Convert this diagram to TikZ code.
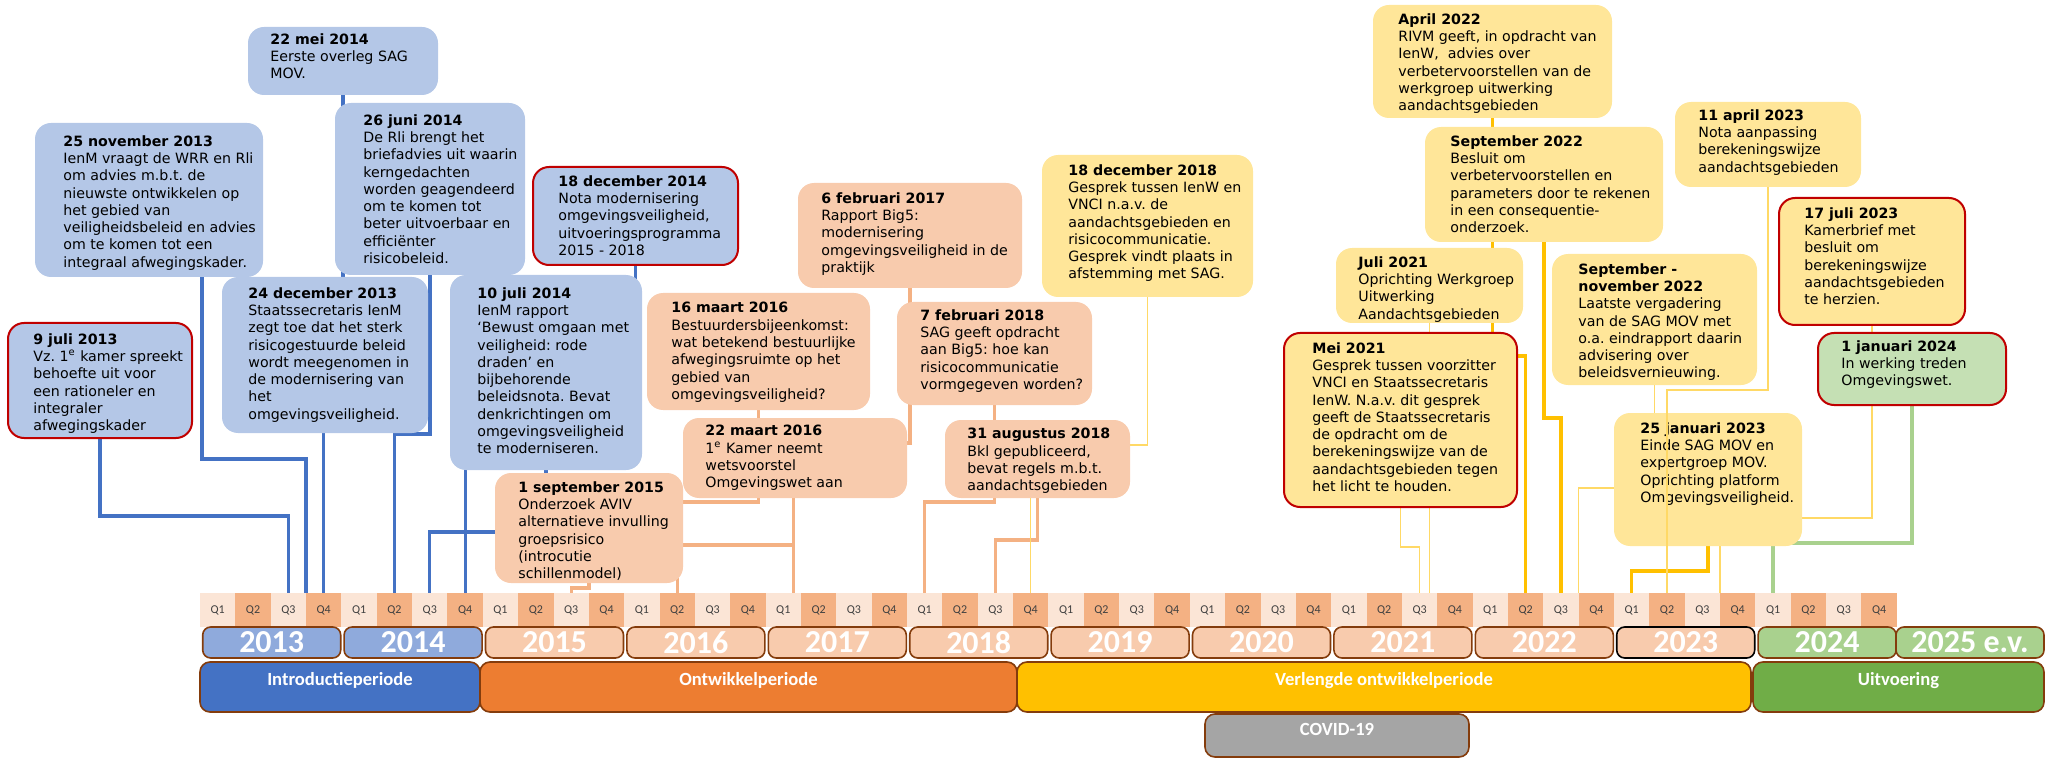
\documentclass[tikz,border=0pt]{standalone}
\usepackage{fontspec}
\setmainfont{DejaVu Sans}
\newfontfamily\calib{Carlito}
\usetikzlibrary{fit}
\pgfdeclarelayer{back}
\pgfsetlayers{back,main}
\frenchspacing
\definecolor{boxblue}{HTML}{B4C7E7}
\definecolor{boxorange}{HTML}{F8CBAD}
\definecolor{boxyellow}{HTML}{FFE699}
\definecolor{boxgreen}{HTML}{C5E0B4}
\definecolor{boxred}{HTML}{C00000}
\definecolor{lnblue}{HTML}{4472C4}
\definecolor{lnorange}{HTML}{F4B183}
\definecolor{lngold}{HTML}{FFC000}
\definecolor{lnthin}{HTML}{FFD966}
\definecolor{lngreen}{HTML}{A9D18E}
\definecolor{qlight}{HTML}{FBE5D6}
\definecolor{qdark}{HTML}{F4B183}
\definecolor{qtext}{HTML}{404040}
\definecolor{yrblue}{HTML}{8FAADC}
\definecolor{yrorange}{HTML}{F8CBAD}
\definecolor{yrgreen}{HTML}{A9D18E}
\definecolor{rim}{HTML}{843C0C}
\definecolor{perblue}{HTML}{4472C4}
\definecolor{perorange}{HTML}{ED7D31}
\definecolor{pergold}{HTML}{FFC000}
\definecolor{pergreen}{HTML}{70AD47}
\definecolor{covid}{HTML}{A5A5A5}

\begin{document}
\begin{tikzpicture}[x=0.5pt,y=-0.5pt,
  box/.style={rounded corners=8pt,inner sep=0pt,outer sep=0pt},
  blueev/.style={box,fill=boxblue},
  orangeev/.style={box,fill=boxorange},
  yellowev/.style={box,fill=boxyellow},
  greenev/.style={box,fill=boxgreen},
  redrim/.style={draw=boxred,line width=1pt},
  evtext/.style={anchor=north west,inner sep=0pt,align=left,font=\fontsize{7.1}{8.65}\selectfont},
  qcell/.style={anchor=north west,minimum width=17.675pt,minimum height=17pt,inner sep=0pt,outer sep=0pt,text=qtext,font=\calib\fontsize{6}{7}\selectfont},
  yearbox/.style={line width=0.8pt,rounded corners=4pt,minimum width=69pt,minimum height=15.5pt,inner sep=0pt,text=white,font=\calib\bfseries\fontsize{16}{16}\selectfont},
  period/.style={draw=rim,line width=0.8pt,rounded corners=5pt,inner sep=0pt,outer sep=0pt,text=white,font=\calib\bfseries\fontsize{9.3}{10}\selectfont},
  blueln/.style={lnblue,line width=1.6pt},
  orangeln/.style={lnorange,line width=1.6pt},
  goldln/.style={lngold,line width=1.6pt},
  thinln/.style={lnthin,line width=0.6pt},
  greenln/.style={lngreen,line width=1.6pt}]
\useasboundingbox (0,0) rectangle (2051,759);

\foreach \i in {0,...,47}{
  \pgfmathtruncatemacro\qn{mod(\i,4)+1}
  \pgfmathsetmacro\qx{200+35.35*\i}
  \ifodd\qn \def\qc{qlight}\else\def\qc{qdark}\fi
  \node[qcell,fill=\qc] (q\i) at (\qx,593) {Q\qn};
}

\foreach \yr/\yc/\yd [count=\k from 0] in {2013/yrblue/rim,2014/yrblue/rim,2015/yrorange/rim,2016/yrorange/rim,2017/yrorange/rim,2018/yrorange/rim,2019/yrorange/rim,2020/yrorange/rim,2021/yrorange/rim,2022/yrorange/rim,2023/yrorange/black,2024/yrgreen/rim}
  \node[yearbox,fill=\yc,draw=\yd] (y\yr) at ({271.7+141.4*\k},642.5) {\yr};
\node[yearbox,fill=yrgreen,draw=rim,minimum width=74pt] (y2025) at (1970,642.5) {2025 e.v.};

\node[period,fill=perblue,fit={(200,662)(480,712)}] (pintro) {Introductieperiode};
\node[period,fill=perorange,fit={(480,662)(1017,712)}] (pontw) {Ontwikkelperiode};
\node[period,fill=pergold,fit={(1017,662)(1751,712)}] (pverl) {Verlengde ontwikkelperiode};
\node[period,fill=pergreen,fit={(1753,662)(2044,712)}] (puitv) {Uitvoering};
\node[period,fill=covid,fit={(1205,714)(1469,757)}] (pcovid) {COVID-19};

\node[blueev,fit={(248,27)(438,95)}] (b22mei) {};
\node[evtext] (t22mei) at (270,33) {\textbf{22 mei 2014}\\Eerste overleg SAG\\MOV.};
\node[blueev,fit={(35,123)(263,277)}] (b25nov) {};
\node[evtext] (t25nov) at (63,135) {\textbf{25 november 2013}\\IenM vraagt de WRR en Rli\\om advies m.b.t. de\\nieuwste ontwikkelen op\\het gebied van\\veiligheidsbeleid en advies\\om te komen tot een\\integraal afwegingskader.};
\node[blueev,fit={(335,103)(525,275)}] (b26jun) {};
\node[evtext] (t26jun) at (363,114) {\textbf{26 juni 2014}\\De Rli brengt het\\briefadvies uit waarin\\kerngedachten\\worden geagendeerd\\om te komen tot\\beter uitvoerbaar en\\efficiënter\\risicobeleid.};
\node[blueev,fit={(222,277)(428,433)}] (b24dec) {};
\node[evtext] (t24dec) at (248,287) {\textbf{24 december 2013}\\Staatssecretaris IenM\\zegt toe dat het sterk\\risicogestuurde beleid\\wordt meegenomen in\\de modernisering van\\het\\omgevingsveiligheid.};
\node[blueev,redrim,fit={(8,323)(192,438)}] (b9jul) {};
\node[evtext] (t9jul) at (33,333) {\textbf{9 juli 2013}\\Vz. 1\textsuperscript{e} kamer spreekt\\behoefte uit voor\\een rationeler en\\integraler\\afwegingskader};
\node[blueev,fit={(450,275)(642,470)}] (b10jul) {};
\node[evtext] (t10jul) at (477,287) {\textbf{10 juli 2014}\\IenM rapport\\‘Bewust omgaan met\\veiligheid: rode\\draden’ en\\bijbehorende\\beleidsnota. Bevat\\denkrichtingen om\\omgevingsveiligheid\\te moderniseren.};
\node[blueev,redrim,fit={(533,167)(738,265)}] (b18dec14) {};
\node[evtext] (t18dec14) at (558,175) {\textbf{18 december 2014}\\Nota modernisering\\omgevingsveiligheid,\\uitvoeringsprogramma\\2015 - 2018};

\node[orangeev,fit={(495,473)(683,583)}] (b1sep15) {};
\node[evtext] (t1sep15) at (518,481) {\textbf{1 september 2015}\\Onderzoek AVIV\\alternatieve invulling\\groepsrisico\\(introcutie\\schillenmodel)};
\node[orangeev,fit={(647,293)(870,410)}] (b16mrt16) {};
\node[evtext] (t16mrt16) at (671,302) {\textbf{16 maart 2016}\\Bestuurdersbijeenkomst:\\wat betekend bestuurlijke\\afwegingsruimte op het\\gebied van\\omgevingsveiligheid?};
\node[orangeev,fit={(683,418)(907,498)}] (b22mrt16) {};
\node[evtext] (t22mrt16) at (705,425) {\textbf{22 maart 2016}\\1\textsuperscript{e} Kamer neemt\\wetsvoorstel\\Omgevingswet aan};
\node[orangeev,fit={(798,183)(1022,288)}] (b6feb17) {};
\node[evtext] (t6feb17) at (821,192) {\textbf{6 februari 2017}\\Rapport Big5:\\modernisering\\omgevingsveiligheid in de\\praktijk};
\node[orangeev,fit={(897,302)(1092,405)}] (b7feb18) {};
\node[evtext] (t7feb18) at (920,309) {\textbf{7 februari 2018}\\SAG geeft opdracht\\aan Big5: hoe kan\\risicocommunicatie\\vormgegeven worden?};
\node[orangeev,fit={(945,420)(1130,498)}] (b31aug18) {};
\node[evtext] (t31aug18) at (967,428) {\textbf{31 augustus 2018}\\Bkl gepubliceerd,\\bevat regels m.b.t.\\aandachtsgebieden};

\node[yellowev,fit={(1042,155)(1253,297)}] (b18dec18) {};
\node[evtext] (t18dec18) at (1068,164) {\textbf{18 december 2018}\\Gesprek tussen IenW en\\VNCI n.a.v. de\\aandachtsgebieden en\\risicocommunicatie.\\Gesprek vindt plaats in\\afstemming met SAG.};
\node[yellowev,fit={(1373,5)(1612,118)}] (bapr22) {};
\node[evtext] (tapr22) at (1398,13) {\textbf{April 2022}\\RIVM geeft, in opdracht van\\IenW,~ advies over\\verbetervoorstellen van de\\werkgroep uitwerking\\aandachtsgebieden};
\node[yellowev,fit={(1425,127)(1663,242)}] (bsep22) {};
\node[evtext] (tsep22) at (1450,135) {\textbf{September 2022}\\Besluit om\\verbetervoorstellen en\\parameters door te rekenen\\in een consequentie-\\onderzoek.};
\node[yellowev,fit={(1336,248)(1523,323)}] (bjul21) {};
\node[evtext] (tjul21) at (1358,256) {\textbf{Juli 2021}\\Oprichting Werkgroep\\Uitwerking\\Aandachtsgebieden};
\node[yellowev,redrim,fit={(1284,333)(1517,507)}] (bmei21) {};
\node[evtext] (tmei21) at (1312,342) {\textbf{Mei 2021}\\Gesprek tussen voorzitter\\VNCI en Staatssecretaris\\IenW. N.a.v. dit gesprek\\geeft de Staatssecretaris\\de opdracht om de\\berekeningswijze van de\\aandachtsgebieden tegen\\het licht te houden.};
\node[yellowev,fit={(1552,254)(1757,385)}] (bsepnov22) {};
\node[evtext] (tsepnov22) at (1578,263) {\textbf{September -}\\\textbf{november 2022}\\Laatste vergadering\\van de SAG MOV met\\o.a. eindrapport daarin\\advisering over\\beleidsvernieuwing.};
\node[yellowev,fit={(1675,102)(1861,187)}] (bapr23) {};
\node[evtext] (tapr23) at (1698,109) {\textbf{11 april 2023}\\Nota aanpassing\\berekeningswijze\\aandachtsgebieden};
\node[yellowev,redrim,fit={(1779,198)(1965,325)}] (bjul23) {};
\node[evtext] (tjul23) at (1804,207) {\textbf{17 juli 2023}\\Kamerbrief met\\besluit om\\berekeningswijze\\aandachtsgebieden\\te herzien.};
\node[greenev,redrim,fit={(1818,333)(2006,405)}] (bjan24) {};
\node[evtext] (tjan24) at (1841,340) {\textbf{1 januari 2024}\\In werking treden\\Omgevingswet.};
\node[yellowev,fit={(1614,413)(1802,546)}] (b25jan23) {};
\node[evtext] (t25jan23) at (1640,422) {\textbf{25 januari 2023}\\Einde SAG MOV en\\expertgroep MOV.\\Oprichting platform\\Omgevingsveiligheid.};

\coordinate (c17) at ([xshift=5pt]q16.north);

\begin{pgfonlayer}{back}
\draw[blueln] (b9jul.south) -- ++(0,78) -| (q2.north);
\draw[blueln] (b25nov.south -| 202,0) -- (202,459) -| (q3.north west);
\draw[blueln] (b24dec.south -| q3.north) -- (q3.north);
\draw[blueln] (b22mei.south) -- (b24dec.north -| b22mei.south);
\draw[blueln] (b26jun.south) -- ++(0,159) -| (q5.north);
\draw[blueln] (b10jul.south -| q7.north) -- (q7.north);
\draw[blueln] (b18dec14.south) -- ++(0,15) -| (b10jul.south |- 0,532) -| (q6.north);

\draw[orangeln] (b1sep15.south) -- ++(0,5) -| (q10.north);
\draw[orangeln] (b16mrt16.south) -- ++(0,92) -| (q13.north);
\draw[orangeln] (b6feb17.south) -- ++(0,155) -| (c17);
\draw[orangeln] (b22mrt16.south -| c17) -- ++(0,47) -| (q13.north);
\draw[orangeln] (b7feb18.south) -- ++(0,97) -| (q20.north);
\draw[orangeln] (b31aug18.south) -- ++(0,42) -| (q22.north);

\draw[thinln] (b18dec18.south) -- ++(0,148) -| (q23.north);
\draw[thinln] (bjul21.south) -- (bjul21.south |- q34.north);
\draw[thinln] (bmei21.south) -- ++(0,40) -| (q34.north);
\draw[thinln] (bsepnov22.south) -- ++(0,103) -| (q39.north west);
\draw[thinln] (bjul23.south) -- ++(0,193) -| (q43.north west);
\draw[goldln] (bapr22.south) -- ++(0,238) -| (q37.north);
\draw[goldln] (bsep22.south) -- ++(0,176) -| (q38.north);
\draw[goldln] (b25jan23.south) -- ++(0,25) -| (q40.north);
\draw[greenln] (bjan24.south) -- ++(0,138) -| (q44.north);
\end{pgfonlayer}
\draw[thinln] (bapr23.south) -- ++(0,203) -| (q41.north);
\end{tikzpicture}
\end{document}
